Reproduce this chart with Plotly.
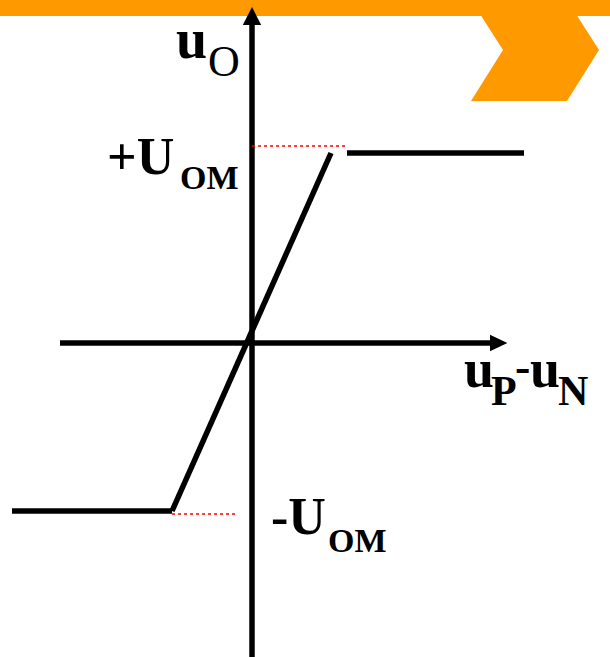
import plotly.graph_objects as go

# ---- data (input u_P-u_N, output u_O), arbitrary units ----
low_x = [-12.0, -4.0]
low_y = [-8.4, -8.4]
lin_x = [-4.0, 3.95]
lin_y = [-8.4, 9.5]
high_x = [4.75, 13.6]
high_y = [9.5, 9.5]
ref_top_x = [0.0, 4.7]
ref_top_y = [9.85, 9.85]
ref_bot_x = [-4.0, -0.8]
ref_bot_y = [-8.55, -8.55]
xaxis_span = [-9.6, 11.95]
yaxis_span = [-15.7, 15.95]

W, H = 610, 657
BLACK = "#000000"
ORANGE = "#FF9900"
LW = 5.5

fig = go.Figure()

def seg(x, y, color=BLACK, width=LW, dash=None):
    fig.add_trace(go.Scatter(x=x, y=y, mode="lines", hoverinfo="skip",
                             line=dict(color=color, width=width, dash=dash)))

# axes shafts
seg([xaxis_span[0], xaxis_span[1]], [0, 0])
seg([0, 0], [yaxis_span[0], yaxis_span[1]])
# arrow heads
fig.add_trace(go.Scatter(x=[11.9, 12.77, 11.9, 11.9], y=[0.41, 0, -0.41, 0.41],
                         mode="lines", fill="toself", fillcolor=BLACK,
                         line=dict(color=BLACK, width=0), hoverinfo="skip"))
fig.add_trace(go.Scatter(x=[-0.46, 0.0, 0.46, -0.46], y=[15.9, 16.8, 15.9, 15.9],
                         mode="lines", fill="toself", fillcolor=BLACK,
                         line=dict(color=BLACK, width=0), hoverinfo="skip"))
# transfer characteristic
seg(low_x, low_y)
seg(lin_x, lin_y)
seg(high_x, high_y)
# red dotted reference lines
seg(ref_top_x, ref_top_y, color="#FF0000", width=1.6, dash="dot")
seg(ref_bot_x, ref_bot_y, color="#FF0000", width=1.6, dash="dot")

# decorative header bar and chevron
def px(x):
    return x / W
def py(y):
    return 1 - y / H

fig.add_shape(type="rect", xref="paper", yref="paper", x0=0, x1=1,
              y0=py(16), y1=1, fillcolor=ORANGE, line_width=0, layer="below")
chev = [(471, 0), (503, 50), (471, 101), (567, 101), (599, 50), (567, 0)]
path = "M " + " L ".join(f"{px(a):.5f},{py(b):.5f}" for a, b in chev) + " Z"
fig.add_shape(type="path", xref="paper", yref="paper", path=path,
              fillcolor=ORANGE, line_width=0, layer="below")

FONT = "Liberation Serif, Times New Roman, serif"

def label(text, x, y, size, bold=True, anchor="left"):
    t = f"<b>{text}</b>" if bold else text
    fig.add_annotation(text=t, xref="paper", yref="paper", x=px(x), y=py(y),
                       xanchor=anchor, yanchor="middle", showarrow=False,
                       borderpad=0, font=dict(family=FONT, size=size, color=BLACK))

# u_O
label("u", 175, 39, 56)
label("O", 207, 61, 44, bold=False)
# +U_OM
label("+U", 106, 156, 52)
label("OM", 179, 177, 34)
# -U_OM
label("-U", 270, 516, 52)
label("OM", 327, 540, 34)
# u_P - u_N
label("u", 463, 369, 54)
label("P", 490, 391, 42)
label("-", 514, 366, 46)
label("u", 529, 369, 54)
label("N", 557, 391, 42)

fig.update_layout(
    width=W, height=H, margin=dict(l=0, r=0, t=0, b=0),
    paper_bgcolor="white", plot_bgcolor="white", showlegend=False,
    xaxis=dict(range=[-12.6, 17.9], visible=False, fixedrange=True),
    yaxis=dict(range=[-15.7, 17.15], visible=False, fixedrange=True),
)
fig.write_html("out.html", config={"displayModeBar": False},
               post_script="document.body.style.margin='0';document.body.style.padding='0';document.body.style.overflow='hidden';")
